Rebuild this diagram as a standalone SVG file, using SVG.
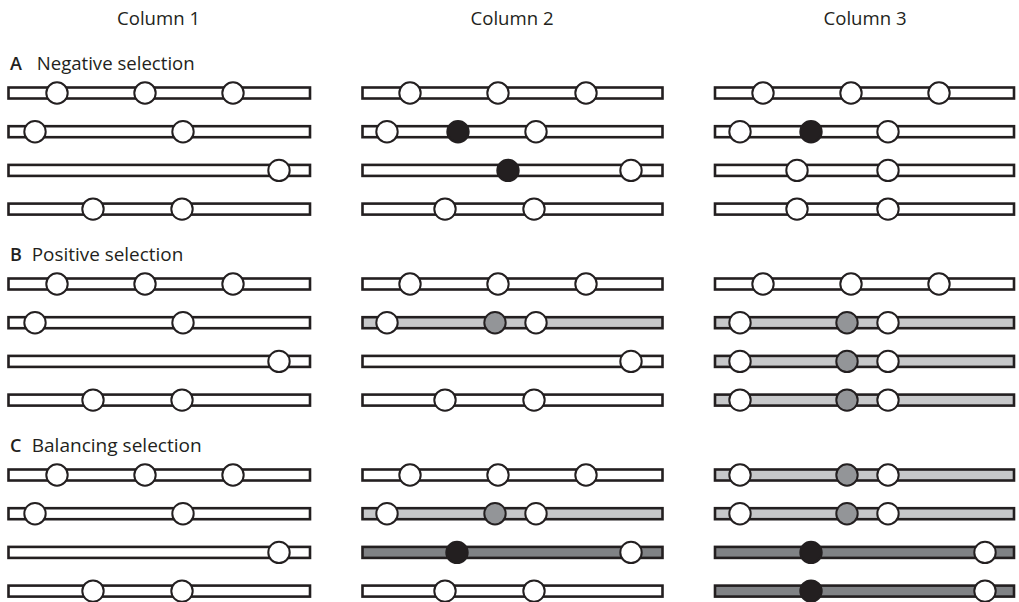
<svg xmlns="http://www.w3.org/2000/svg" width="1019" height="602" viewBox="0 0 1019 602">
<style>
text{font-family:"Open Sans","Liberation Sans",sans-serif;fill:#231f20;stroke:none}
.hd{font-size:18px}
.lb{font-size:18px}
.k{font-weight:600}
.bar rect{stroke:#231f20;stroke-width:2.6}
.bar circle{stroke:#231f20;stroke-width:2}
.w{fill:#fff}
.l{fill:#c7c8ca}
.d{fill:#808285}
.g{fill:#939598}
.b{fill:#231f20}
</style>
<g id="headers">
<text class="hd" x="117" y="25" textLength="83" lengthAdjust="spacingAndGlyphs">Column 1</text>
<text class="hd" x="470.5" y="25" textLength="83" lengthAdjust="spacingAndGlyphs">Column 2</text>
<text class="hd" x="823.5" y="25" textLength="83" lengthAdjust="spacingAndGlyphs">Column 3</text>
</g>
<g id="labels">
<text class="lb k" x="10" y="70">A</text>
<text class="lb" x="36.7" y="70" textLength="158" lengthAdjust="spacingAndGlyphs">Negative selection</text>
<text class="lb k" x="10" y="261">B</text>
<text class="lb" x="31.7" y="261" textLength="151.6" lengthAdjust="spacingAndGlyphs">Positive selection</text>
<text class="lb k" x="10" y="452">C</text>
<text class="lb" x="31.7" y="452" textLength="170" lengthAdjust="spacingAndGlyphs">Balancing selection</text>
</g>
<!-- A -->
<g id="A" class="bar">
<g id="A-c1r1" transform="translate(0,93)"><rect class="w" x="8.5" y="-5.5" width="301.5" height="11"/><circle class="w" cx="57" cy="0" r="10.7"/><circle class="w" cx="145" cy="0" r="10.7"/><circle class="w" cx="233" cy="0" r="10.7"/></g>
<g id="A-c1r2" transform="translate(0,131.7)"><rect class="w" x="8.5" y="-5.5" width="301.5" height="11"/><circle class="w" cx="35" cy="0" r="10.7"/><circle class="w" cx="183" cy="0" r="10.7"/></g>
<g id="A-c1r3" transform="translate(0,170.4)"><rect class="w" x="8.5" y="-5.5" width="301.5" height="11"/><circle class="w" cx="279" cy="0" r="10.7"/></g>
<g id="A-c1r4" transform="translate(0,209.1)"><rect class="w" x="8.5" y="-5.5" width="301.5" height="11"/><circle class="w" cx="93" cy="0" r="10.7"/><circle class="w" cx="182" cy="0" r="10.7"/></g>
<g id="A-c2r1" transform="translate(0,93)"><rect class="w" x="362.5" y="-5.5" width="300" height="11"/><circle class="w" cx="410" cy="0" r="10.7"/><circle class="w" cx="498" cy="0" r="10.7"/><circle class="w" cx="586" cy="0" r="10.7"/></g>
<g id="A-c2r2" transform="translate(0,131.7)"><rect class="w" x="362.5" y="-5.5" width="300" height="11"/><circle class="w" cx="387" cy="0" r="10.7"/><circle class="b" cx="458" cy="0" r="10.7"/><circle class="w" cx="536" cy="0" r="10.7"/></g>
<g id="A-c2r3" transform="translate(0,170.4)"><rect class="w" x="362.5" y="-5.5" width="300" height="11"/><circle class="b" cx="508" cy="0" r="10.7"/><circle class="w" cx="631" cy="0" r="10.7"/></g>
<g id="A-c2r4" transform="translate(0,209.1)"><rect class="w" x="362.5" y="-5.5" width="300" height="11"/><circle class="w" cx="445" cy="0" r="10.7"/><circle class="w" cx="534" cy="0" r="10.7"/></g>
<g id="A-c3r1" transform="translate(0,93)"><rect class="w" x="715" y="-5.5" width="299" height="11"/><circle class="w" cx="763" cy="0" r="10.7"/><circle class="w" cx="851" cy="0" r="10.7"/><circle class="w" cx="939" cy="0" r="10.7"/></g>
<g id="A-c3r2" transform="translate(0,131.7)"><rect class="w" x="715" y="-5.5" width="299" height="11"/><circle class="w" cx="740" cy="0" r="10.7"/><circle class="b" cx="811" cy="0" r="10.7"/><circle class="w" cx="888" cy="0" r="10.7"/></g>
<g id="A-c3r3" transform="translate(0,170.4)"><rect class="w" x="715" y="-5.5" width="299" height="11"/><circle class="w" cx="797" cy="0" r="10.7"/><circle class="w" cx="888" cy="0" r="10.7"/></g>
<g id="A-c3r4" transform="translate(0,209.1)"><rect class="w" x="715" y="-5.5" width="299" height="11"/><circle class="w" cx="797" cy="0" r="10.7"/><circle class="w" cx="888" cy="0" r="10.7"/></g>
</g>
<!-- B -->
<g id="B" class="bar">
<g id="B-c1r1" transform="translate(0,284)"><rect class="w" x="8.5" y="-5.5" width="301.5" height="11"/><circle class="w" cx="57" cy="0" r="10.7"/><circle class="w" cx="145" cy="0" r="10.7"/><circle class="w" cx="233" cy="0" r="10.7"/></g>
<g id="B-c1r2" transform="translate(0,322.7)"><rect class="w" x="8.5" y="-5.5" width="301.5" height="11"/><circle class="w" cx="35" cy="0" r="10.7"/><circle class="w" cx="183" cy="0" r="10.7"/></g>
<g id="B-c1r3" transform="translate(0,361.4)"><rect class="w" x="8.5" y="-5.5" width="301.5" height="11"/><circle class="w" cx="279" cy="0" r="10.7"/></g>
<g id="B-c1r4" transform="translate(0,400.1)"><rect class="w" x="8.5" y="-5.5" width="301.5" height="11"/><circle class="w" cx="93" cy="0" r="10.7"/><circle class="w" cx="182" cy="0" r="10.7"/></g>
<g id="B-c2r1" transform="translate(0,284)"><rect class="w" x="362.5" y="-5.5" width="300" height="11"/><circle class="w" cx="410" cy="0" r="10.7"/><circle class="w" cx="498" cy="0" r="10.7"/><circle class="w" cx="586" cy="0" r="10.7"/></g>
<g id="B-c2r2" transform="translate(0,322.7)"><rect class="l" x="362.5" y="-5.5" width="300" height="11"/><circle class="w" cx="387" cy="0" r="10.7"/><circle class="g" cx="495" cy="0" r="10.7"/><circle class="w" cx="536" cy="0" r="10.7"/></g>
<g id="B-c2r3" transform="translate(0,361.4)"><rect class="w" x="362.5" y="-5.5" width="300" height="11"/><circle class="w" cx="631" cy="0" r="10.7"/></g>
<g id="B-c2r4" transform="translate(0,400.1)"><rect class="w" x="362.5" y="-5.5" width="300" height="11"/><circle class="w" cx="445" cy="0" r="10.7"/><circle class="w" cx="534" cy="0" r="10.7"/></g>
<g id="B-c3r1" transform="translate(0,284)"><rect class="w" x="715" y="-5.5" width="299" height="11"/><circle class="w" cx="763" cy="0" r="10.7"/><circle class="w" cx="851" cy="0" r="10.7"/><circle class="w" cx="939" cy="0" r="10.7"/></g>
<g id="B-c3r2" transform="translate(0,322.7)"><rect class="l" x="715" y="-5.5" width="299" height="11"/><circle class="w" cx="740" cy="0" r="10.7"/><circle class="g" cx="847" cy="0" r="10.7"/><circle class="w" cx="888" cy="0" r="10.7"/></g>
<g id="B-c3r3" transform="translate(0,361.4)"><rect class="l" x="715" y="-5.5" width="299" height="11"/><circle class="w" cx="740" cy="0" r="10.7"/><circle class="g" cx="847" cy="0" r="10.7"/><circle class="w" cx="888" cy="0" r="10.7"/></g>
<g id="B-c3r4" transform="translate(0,400.1)"><rect class="l" x="715" y="-5.5" width="299" height="11"/><circle class="w" cx="740" cy="0" r="10.7"/><circle class="g" cx="847" cy="0" r="10.7"/><circle class="w" cx="888" cy="0" r="10.7"/></g>
</g>
<!-- C -->
<g id="C" class="bar">
<g id="C-c1r1" transform="translate(0,475)"><rect class="w" x="8.5" y="-5.5" width="301.5" height="11"/><circle class="w" cx="57" cy="0" r="10.7"/><circle class="w" cx="145" cy="0" r="10.7"/><circle class="w" cx="233" cy="0" r="10.7"/></g>
<g id="C-c1r2" transform="translate(0,513.7)"><rect class="w" x="8.5" y="-5.5" width="301.5" height="11"/><circle class="w" cx="35" cy="0" r="10.7"/><circle class="w" cx="183" cy="0" r="10.7"/></g>
<g id="C-c1r3" transform="translate(0,552.4)"><rect class="w" x="8.5" y="-5.5" width="301.5" height="11"/><circle class="w" cx="279" cy="0" r="10.7"/></g>
<g id="C-c1r4" transform="translate(0,591.1)"><rect class="w" x="8.5" y="-5.5" width="301.5" height="11"/><circle class="w" cx="93" cy="0" r="10.7"/><circle class="w" cx="182" cy="0" r="10.7"/></g>
<g id="C-c2r1" transform="translate(0,475)"><rect class="w" x="362.5" y="-5.5" width="300" height="11"/><circle class="w" cx="410" cy="0" r="10.7"/><circle class="w" cx="498" cy="0" r="10.7"/><circle class="w" cx="586" cy="0" r="10.7"/></g>
<g id="C-c2r2" transform="translate(0,513.7)"><rect class="l" x="362.5" y="-5.5" width="300" height="11"/><circle class="w" cx="387" cy="0" r="10.7"/><circle class="g" cx="495" cy="0" r="10.7"/><circle class="w" cx="536" cy="0" r="10.7"/></g>
<g id="C-c2r3" transform="translate(0,552.4)"><rect class="d" x="362.5" y="-5.5" width="300" height="11"/><circle class="b" cx="457" cy="0" r="10.7"/><circle class="w" cx="631" cy="0" r="10.7"/></g>
<g id="C-c2r4" transform="translate(0,591.1)"><rect class="w" x="362.5" y="-5.5" width="300" height="11"/><circle class="w" cx="445" cy="0" r="10.7"/><circle class="w" cx="534" cy="0" r="10.7"/></g>
<g id="C-c3r1" transform="translate(0,475)"><rect class="l" x="715" y="-5.5" width="299" height="11"/><circle class="w" cx="740" cy="0" r="10.7"/><circle class="g" cx="847" cy="0" r="10.7"/><circle class="w" cx="888" cy="0" r="10.7"/></g>
<g id="C-c3r2" transform="translate(0,513.7)"><rect class="l" x="715" y="-5.5" width="299" height="11"/><circle class="w" cx="740" cy="0" r="10.7"/><circle class="g" cx="847" cy="0" r="10.7"/><circle class="w" cx="888" cy="0" r="10.7"/></g>
<g id="C-c3r3" transform="translate(0,552.4)"><rect class="d" x="715" y="-5.5" width="299" height="11"/><circle class="b" cx="811" cy="0" r="10.7"/><circle class="w" cx="985" cy="0" r="10.7"/></g>
<g id="C-c3r4" transform="translate(0,591.1)"><rect class="d" x="715" y="-5.5" width="299" height="11"/><circle class="b" cx="811" cy="0" r="10.7"/><circle class="w" cx="985" cy="0" r="10.7"/></g>
</g>
<g id="connectors"/>
</svg>
